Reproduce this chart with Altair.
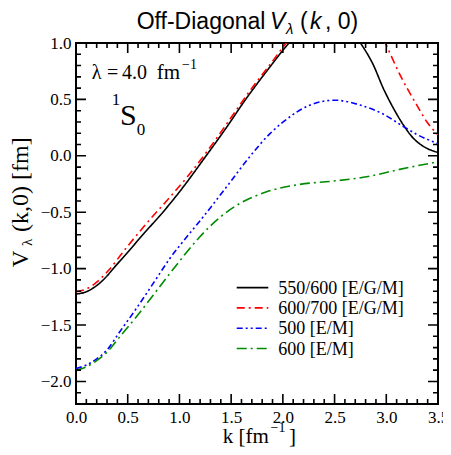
import altair as alt
import pandas as pd

# ---------------- data ----------------
series_names = ["550/600 [E/G/M]", "600/700 [E/G/M]", "500 [E/M]", "600 [E/M]"]
series_colors = ["#000000", "#ff0000", "#0000ff", "#008b00"]
series_dashes = [[1, 0], [8, 4, 2, 4], [6, 3, 2, 3, 2, 3], [10, 4, 2, 4]]

k_550_600 = [0.0, 0.1, 0.2, 0.3, 0.36, 0.5, 0.65, 0.84, 1.0, 1.25, 1.45, 1.64, 1.86,
             2.06, 2.25, 2.42, 2.58, 2.75, 2.875, 2.97, 3.07, 3.165, 3.26, 3.36, 3.5]
v_550_600 = [-1.225, -1.205, -1.15, -1.065, -1.0, -0.855, -0.695, -0.5, -0.32, -0.01, 0.245,
             0.5, 0.77, 1.0, 1.17, 1.24, 1.19, 1.0, 0.805, 0.6, 0.42, 0.274, 0.157, 0.083, 0.03]

k_600_700 = [0.0, 0.1, 0.2, 0.3, 0.5, 0.7, 0.9, 1.1, 1.3, 1.5, 1.7, 1.86, 2.05,
             2.3, 2.5, 2.7, 2.85, 2.99, 3.133, 3.294, 3.39, 3.5]
v_600_700 = [-1.205, -1.18, -1.12, -1.03, -0.8, -0.58, -0.375, -0.16, 0.08, 0.34, 0.6, 0.79,
             1.02, 1.27, 1.4, 1.4, 1.25, 1.0, 0.717, 0.451, 0.304, 0.185]

k_500 = [0.0, 0.1, 0.2, 0.3, 0.425, 0.586, 0.748, 0.909, 1.07, 1.2, 1.457, 1.682, 1.876,
         2.0, 2.26, 2.504, 2.746, 2.97, 3.165, 3.294, 3.5]
v_500 = [-1.885, -1.855, -1.8, -1.72, -1.557, -1.35, -1.129, -0.908, -0.72, -0.575, -0.274,
         -0.005, 0.197, 0.298, 0.449, 0.493, 0.45, 0.37, 0.26, 0.19, 0.108]

k_600 = [0.0, 0.1, 0.2, 0.3, 0.425, 0.586, 0.748, 0.909, 1.07, 1.2, 1.392, 1.586, 1.844,
         2.166, 2.488, 2.81, 3.13, 3.5]
v_600 = [-1.9, -1.87, -1.815, -1.74, -1.602, -1.425, -1.233, -1.041, -0.855, -0.715, -0.545,
         -0.421, -0.319, -0.253, -0.224, -0.186, -0.12, -0.053]

x_domain = [0.0, 3.5]
y_domain = [-2.2, 1.0]
x_major = [0.0, 0.5, 1.0, 1.5, 2.0, 2.5, 3.0, 3.5]
x_minor = [round(0.1 * i, 1) for i in range(36) if i % 5 != 0]
y_major = [-2.0, -1.5, -1.0, -0.5, 0.0, 0.5, 1.0]
y_minor = [round(-2.2 + 0.1 * i, 1) for i in range(33) if round(-2.2 + 0.1 * i, 1) not in y_major]

# ---------------- build ----------------
W, H = 362, 361
SERIF = "Liberation Serif, Times New Roman, serif"
SANS = "Liberation Sans, Arial, Helvetica, sans-serif"

rows = []
for name, ks, vs in [(series_names[0], k_550_600, v_550_600),
                     (series_names[1], k_600_700, v_600_700),
                     (series_names[2], k_500, v_500),
                     (series_names[3], k_600, v_600)]:
    for k, v in zip(ks, vs):
        rows.append({"style": name, "grp": name, "k": k, "v": v})

# inward frame ticks as short segments in data units (lengths in px converted)
dx_per_px = (x_domain[1] - x_domain[0]) / W
dy_per_px = (y_domain[1] - y_domain[0]) / H
tid = 0
for vals, L in [(x_major, 10), (x_minor, 5)]:
    for k in vals:
        for y0, sgn in [(y_domain[0], 1), (y_domain[1], -1)]:
            g = f"tick{tid}"; tid += 1
            rows.append({"style": "tick", "grp": g, "k": k, "v": y0})
            rows.append({"style": "tick", "grp": g, "k": k, "v": y0 + sgn * L * dy_per_px})
for vals, L in [(y_major, 10), (y_minor, 5)]:
    for v in vals:
        for x0, sgn in [(x_domain[0], 1), (x_domain[1], -1)]:
            g = f"tick{tid}"; tid += 1
            rows.append({"style": "tick", "grp": g, "k": x0, "v": v})
            rows.append({"style": "tick", "grp": g, "k": x0 + sgn * L * dx_per_px, "v": v})
df = pd.DataFrame(rows)

x_scale = alt.Scale(domain=x_domain, nice=False, zero=False)
y_scale = alt.Scale(domain=y_domain, nice=False, zero=False)
color_scale = alt.Scale(domain=series_names + ["tick"], range=series_colors + ["#000000"])
dash_scale = alt.Scale(domain=series_names + ["tick"], range=series_dashes + [[1, 0]])

x_axis = alt.Axis(values=x_major, format=".1f", labelFont=SERIF, labelFontSize=17,
                  labelColor="black", ticks=False, domain=False, grid=False, labelFlush=False,
                  labelPadding=5, labelOverlap=False, title=None)
y_axis = alt.Axis(values=y_major, format=".1f", labelFont=SERIF, labelFontSize=17,
                  labelColor="black", ticks=False, domain=False, grid=False, labelFlush=False,
                  labelPadding=5, labelOverlap=False, title=None)

lines = alt.Chart(df).mark_line(clip=True, strokeWidth=1.6, interpolate="monotone").encode(
    x=alt.X("k:Q", scale=x_scale, axis=x_axis),
    y=alt.Y("v:Q", scale=y_scale, axis=y_axis),
    color=alt.Color("style:N", scale=color_scale, legend=None),
    strokeDash=alt.StrokeDash("style:N", scale=dash_scale, legend=None),
    detail="grp:N",
    order=alt.Order("k:Q"),
)

def txt(s, x, y, size, font=SERIF, style="normal", angle=0, align="left"):
    return alt.Chart(pd.DataFrame({"t": [s]})).mark_text(
        align=align, baseline="alphabetic", font=font, fontSize=size,
        fontStyle=style, angle=angle, color="black").encode(
        x=alt.value(x), y=alt.value(y), text="t:N")

texts = [
    # chart title
    txt("Off-Diagonal", 60.7, -14.5, 23, SANS),
    txt("V", 194, -14.5, 23, SANS, "italic"),
    txt("λ", 210, -9.5, 15, SANS, "italic"),
    txt("(", 224, -14.5, 23, SANS),
    txt("k", 234, -14.5, 23, SANS, "italic"),
    txt(", 0)", 249, -14.5, 23, SANS),
    # annotations
    txt("λ", 15.7, 35.6, 20),
    txt("=", 31, 35.6, 20),
    txt("4.0", 46, 35.6, 20),
    txt("fm", 80.7, 35.6, 21),
    txt("−1", 106, 25.5, 14),
    txt("1", 35.7, 62.3, 17),
    txt("S", 44, 82.3, 30),
    txt("0", 60.7, 92.3, 17),
    # x axis title
    txt("k [fm", 146.7, 399.5, 21),
    txt("−1", 194.5, 388.5, 14),
    txt("]", 213, 399.5, 21),
    # y axis title (rotated)
    txt("V", -48, 224.3, 23, angle=270),
    txt("λ", -44.3, 203, 15, angle=270),
    txt("(k,0) [fm]", -48, 189, 24, angle=270),
]

leg = pd.DataFrame({"series": series_names, "idx": list(range(len(series_names)))})
leg_base = alt.Chart(leg).transform_calculate(ly="244.6 + 20.3 * datum.idx")
leg_lines = leg_base.mark_rule(strokeWidth=1.6).encode(
    x=alt.value(160.7), x2=alt.value(192.3),
    y=alt.Y("ly:Q", scale=None),
    color=alt.Color("series:N", scale=color_scale, legend=None),
    strokeDash=alt.StrokeDash("series:N", scale=dash_scale, legend=None),
)
leg_text = leg_base.mark_text(align="left", baseline="middle", font=SERIF, fontSize=18,
                              color="black", dy=1).encode(
    x=alt.value(202.3), y=alt.Y("ly:Q", scale=None), text="series:N")

chart = alt.layer(lines, leg_lines, leg_text, *texts).properties(
    width=W, height=H,
    autosize=alt.AutoSizeParams(type="none"),
    padding={"left": 68, "top": 35, "right": 5, "bottom": 43},
    background="white",
).configure_view(stroke="black", strokeWidth=2)

chart.save("out.html", embed_options={"renderer": "svg", "actions": False})
